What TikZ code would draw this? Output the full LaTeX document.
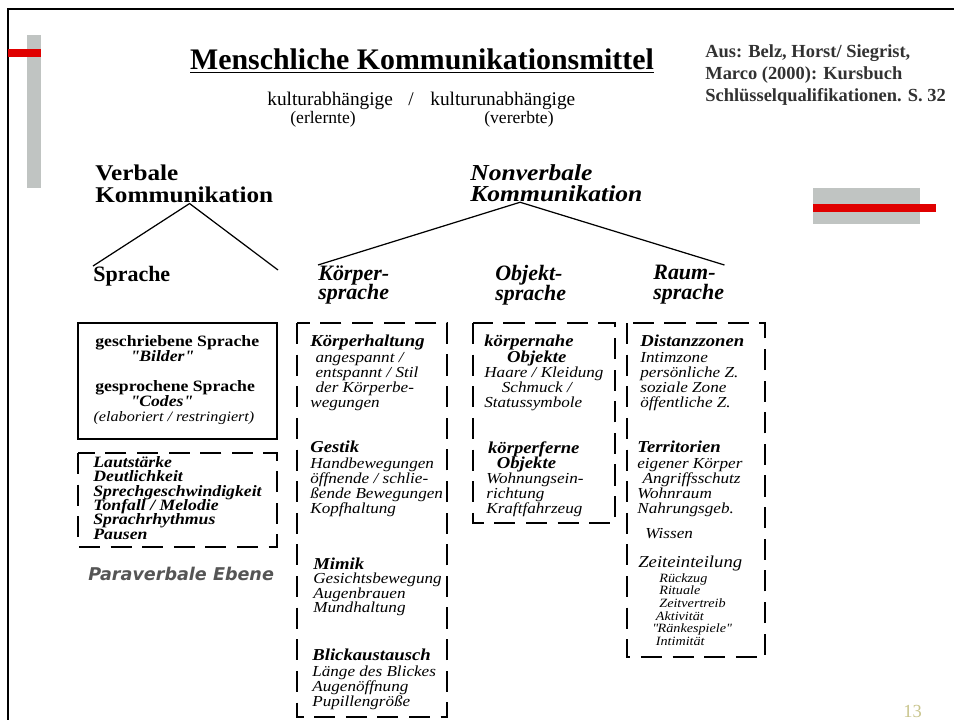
\documentclass[tikz,border=0pt]{standalone}
\usepackage{fontspec}
\setmainfont{Liberation Serif}
\newfontfamily\boxfont[FakeStretch=1.12]{Liberation Serif}
\newfontfamily\parafont{DejaVu Sans}
\usetikzlibrary{calc}
\definecolor{barGray}{RGB}{192,196,194}
\definecolor{barRed}{RGB}{224,0,0}
\definecolor{citeGray}{RGB}{50,50,50}
\definecolor{pageNo}{RGB}{200,196,140}
\definecolor{paraGray}{RGB}{85,85,85}
\newcommand{\hd}[1]{{\fontsize{9.5}{8.6}\selectfont\bfseries #1}}
\newcommand{\qq}{\textquotedbl}

\begin{document}
\lineskiplimit=-20pt
\begin{tikzpicture}[x=0.02cm,y=-0.02cm,
  txt/.style={anchor=north west,inner sep=0,align=left,font=\boxfont\fontsize{8.7}{8.6}\selectfont\itshape},
  head/.style={anchor=north west,inner sep=0,align=left},
  dashbox/.style={line width=0.8pt,dash pattern=on 12pt off 6pt},
  solidbox/.style={line width=1pt}]
\useasboundingbox (0,0) rectangle (954,720);
% frame and bars
\draw[line width=1.7pt] (8,720)--(8,9)--(954,9);
\fill[barGray] (27,35) rectangle (41,188);
\fill[barRed] (8,49) rectangle (41,57);
\fill[barGray] (813,188) rectangle (920,224);
\fill[barRed] (813,204) rectangle (936,212);
% title
\node[anchor=base,inner sep=0,font=\fontsize{17}{19}\selectfont\bfseries] (title) at (422,70) {\underline{Menschliche Kommunikationsmittel}};
\node[anchor=base west,inner sep=0,font=\fontsize{11}{13}\selectfont] (kab) at (267,105) {kulturabhängige};
\node[anchor=base west,inner sep=0,font=\fontsize{11}{13}\selectfont] (slash) at (408,105) {/};
\node[anchor=base west,inner sep=0,font=\fontsize{11}{13}\selectfont] (kun) at (430,105) {kulturunabhängige};
\node[anchor=base west,inner sep=0,font=\fontsize{10}{12}\selectfont] (erl) at (290,123) {(erlernte)};
\node[anchor=base west,inner sep=0,font=\fontsize{10}{12}\selectfont] (ver) at (484,123) {(vererbte)};
\node[head,text=citeGray,font=\fontsize{10.5}{12.75}\selectfont\bfseries] (cite) at (705,44) {Aus: Belz, Horst/ Siegrist,\\ Marco (2000): Kursbuch\\ Schlüsselqualifikationen. S. 32};
% tree
\node[head,font=\boxfont\fontsize{12.8}{12.5}\selectfont\bfseries] (verb) at (95,165) {Verbale\\ Kommunikation};
\node[head,font=\boxfont\fontsize{13}{12.2}\selectfont\bfseries\itshape] (nonv) at (470,164) {Nonverbale\\ Kommunikation};
\node[head,font=\fontsize{12.5}{11.3}\selectfont\bfseries] (spr) at (93,266) {Sprache};
\node[head,font=\fontsize{12.5}{11.3}\selectfont\bfseries\itshape] (koerp) at (318,265) {Körper-\\ sprache};
\node[head,font=\fontsize{12.5}{11.3}\selectfont\bfseries\itshape] (obj) at (495,265) {Objekt-\\ sprache};
\node[head,font=\fontsize{12.5}{11.3}\selectfont\bfseries\itshape] (raum) at (653,265) {Raum-\\ sprache};
\coordinate (vend) at (278,270);
\coordinate (vtop) at ($(verb.south west)!0.53!(verb.south east)$);
\coordinate (nvtop) at ($(nonv.south west)!0.29!(nonv.south east)$);
\draw[line width=0.7pt] (spr.north west)--(vtop)--(vend);
\draw[line width=0.7pt] (koerp.north west)--(nvtop)--(raum.north east);
% boxes
\draw[solidbox] (78,323) rectangle (277,439);
\draw[dashbox] (78,453) rectangle (277,547);
\draw[dashbox] (297,323) rectangle (447,717);
\draw[dashbox] (473,323) rectangle (615,523);
\draw[dashbox] (627,323) rectangle (765,657);
% verbal
\node[head,font=\boxfont\fontsize{9}{8.6}\selectfont\bfseries] (gesch) at (95,335) {geschriebene Sprache\\ \hspace*{20pt}\textit{\qq Bilder\qq}\\[8.6pt] gesprochene Sprache\\ \hspace*{20pt}\textit{\qq Codes\qq}\\ \hspace*{-1pt}{\mdseries\itshape\fontsize{8.2}{8.6}\selectfont (elaboriert / restringiert)}};
\node[head,font=\boxfont\fontsize{9}{8.2}\selectfont\bfseries\itshape] (laut) at (93,456) {Lautstärke\\ Deutlichkeit\\ Sprechgeschwindigkeit\\ Tonfall / Melodie\\ Sprachrhythmus\\ Pausen};
\node[anchor=base west,inner sep=0,text=paraGray,font=\parafont\fontsize{10}{12}\selectfont\bfseries\itshape] (para) at (88,580) {Paraverbale Ebene};
% koerpersprache
\node[txt] (haltung) at (310,335) {\hd{Körperhaltung}\\ \hspace*{3pt}angespannt /\\ \hspace*{3pt}entspannt / Stil\\ \hspace*{3pt}der Körperbe-\\ wegungen};
\node[txt] (gestik) at (310,441) {\hd{Gestik}\\ Handbewegungen\\ öffnende / schlie-\\ ßende Bewegungen\\ Kopfhaltung};
\node[txt,font=\boxfont\fontsize{8.7}{8}\selectfont\itshape] (mimik) at (313,558) {\hd{Mimik}\\ Gesichtsbewegung\\ Augenbrauen\\ Mundhaltung};
\node[txt] (blick) at (312,649) {\hd{Blickaustausch}\\ Länge des Blickes\\ Augenöffnung\\ Pupillengröße};
% objektsprache
\node[txt] (nah) at (484,335) {\hd{körpernahe}\\ \hspace*{13pt}\hd{Objekte}\\ Haare / Kleidung\\ \hspace*{10pt}Schmuck /\\ Statussymbole};
\node[txt] (fern) at (486,441) {\hspace*{1pt}\hd{körperferne}\\ \hspace*{6pt}\hd{Objekte}\\ Wohnungsein-\\ richtung\\ Kraftfahrzeug};
% raumsprache
\node[txt] (dist) at (640,335) {\hd{Distanzzonen}\\ Intimzone\\ persönliche Z.\\ soziale Zone\\ öffentliche Z.};
\node[txt] (terr) at (637,441) {\hd{Territorien}\\ eigener Körper\\ \hspace*{3pt}Angriffsschutz\\ Wohnraum\\ Nahrungsgeb.};
\node[anchor=base west,inner sep=0,font=\boxfont\fontsize{8.7}{8.6}\selectfont\itshape] (wissen) at (645,538) {Wissen};
\node[anchor=base west,inner sep=0,font=\boxfont\fontsize{9.5}{12}\selectfont\itshape] (zeit) at (638,567) {Zeiteinteilung};
\node[txt,font=\boxfont\fontsize{7.2}{7.2}\selectfont\itshape] (zeitl) at (652,573) {\hspace*{4pt}Rückzug\\ \hspace*{4pt}Rituale\\ \hspace*{4pt}Zeitvertreib\\ \hspace*{2pt}Aktivität\\ \qq Ränkespiele\qq\\ \hspace*{2pt}Intimität};
\node[anchor=base west,inner sep=0,text=pageNo,font=\fontsize{10.5}{12}\selectfont] (page) at (903,717) {13};
\end{tikzpicture}
\end{document}
